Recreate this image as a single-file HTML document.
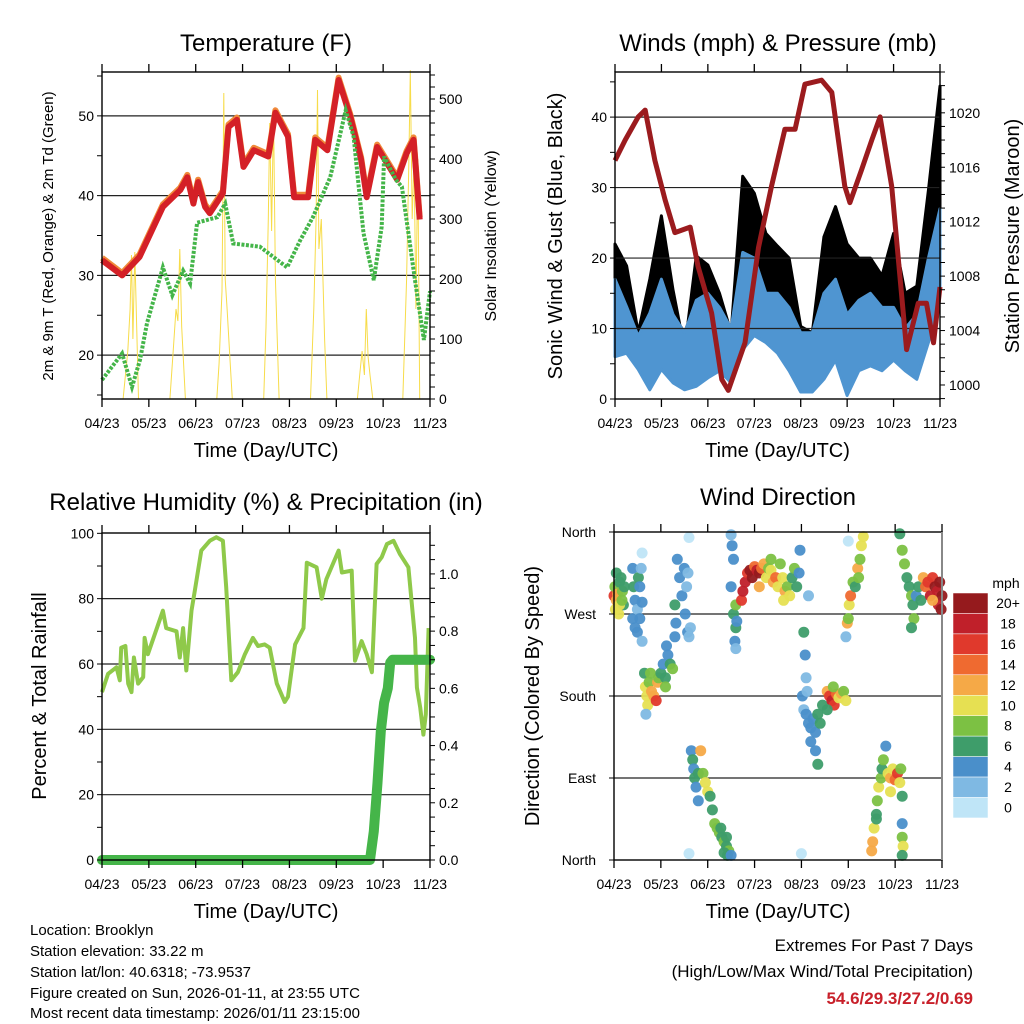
<!DOCTYPE html>
<html><head><meta charset="utf-8"><style>
html,body{margin:0;padding:0;background:#fff}
svg{display:block;font-family:"Liberation Sans",sans-serif}
</style></head><body>
<svg id="chart" width="1024" height="1024" viewBox="0 0 1024 1024" xmlns="http://www.w3.org/2000/svg">
<rect width="1024" height="1024" fill="#fff"/>
<text x="266" y="51" font-size="24" text-anchor="middle">Temperature (F)</text>
<text x="778" y="51" font-size="24" text-anchor="middle">Winds (mph) &amp; Pressure (mb)</text>
<text x="266" y="510" font-size="24" text-anchor="middle">Relative Humidity (%) &amp; Precipitation (in)</text>
<text x="778" y="505" font-size="24" text-anchor="middle">Wind Direction</text>
<g id="layer"></g>
<g font-size="15">
<text x="30" y="935">Location: Brooklyn</text>
<text x="30" y="956">Station elevation: 33.22 m</text>
<text x="30" y="977">Station lat/lon: 40.6318; -73.9537</text>
<text x="30" y="998">Figure created on Sun, 2026-01-11, at 23:55 UTC</text>
<text x="30" y="1018">Most recent data timestamp: 2026/01/11 23:15:00</text>
</g>
<g text-anchor="end" font-size="17">
<text x="973" y="951">Extremes For Past 7 Days</text>
<text x="973" y="977">(High/Low/Max Wind/Total Precipitation)</text>
<text x="973" y="1004" fill="#c8202a" font-weight="bold">54.6/29.3/27.2/0.69</text>
</g>
</svg>
<script>
// ---------- data ----------
const dayLabels=["04/23","05/23","06/23","07/23","08/23","09/23","10/23","11/23"];
const tempT=[0,0.43,0.8,1.3,1.67,1.82,1.95,2.05,2.2,2.3,2.58,2.7,2.88,3.02,3.24,3.55,3.7,3.97,4.1,4.4,4.55,4.81,5.05,5.3,5.53,5.65,5.87,6.3,6.5,6.65,6.78];
const tempV=[31.9,30,32.3,38.6,40.7,42.3,39,41.7,38.6,37.8,40.3,48.6,49.5,43.6,45.7,44.9,50.4,47.4,39.8,39.8,47,45.7,54.5,49.9,44.5,39.8,46.1,42,45.3,47,37];
const dewT=[0,0.43,0.64,0.81,0.96,1.3,1.5,1.73,1.88,2.03,2.46,2.63,2.8,3.37,3.95,4.23,4.5,4.87,5.2,5.37,5.58,5.8,5.97,6.02,6.27,6.4,6.68,6.87,7];
const dewV=[16.9,20.2,16,19.4,24,31,27.5,30.6,29,36.6,37.3,39,34,33.6,31,34.4,37.3,42.3,50.7,47.4,35.3,29.4,36.1,44.9,42,41.1,29.4,21.9,28];
const solarT=[0.45,0.55,0.6,0.63,0.66,0.7,0.74,0.78,1.45,1.52,1.58,1.62,1.66,1.7,1.78,2.45,2.5,2.56,2.6,2.63,2.67,2.72,2.78,3.45,3.5,3.55,3.58,3.62,3.66,3.7,3.78,4.45,4.52,4.57,4.6,4.63,4.68,4.75,4.8,5.45,5.5,5.55,5.6,5.64,5.68,5.72,5.78,6.42,6.5,6.55,6.58,6.62,6.66,6.7,6.74,6.78];
const solarV=[0,80,150,240,100,245,120,0,0,80,150,130,250,120,0,0,60,180,510,200,150,80,0,0,120,300,460,280,480,200,0,0,150,300,515,250,300,100,0,0,40,80,40,150,70,40,0,0,200,400,548,300,400,150,400,0];
const windT=[0,0.25,0.5,0.75,1,1.25,1.5,1.75,2,2.25,2.5,2.75,3,3.25,3.5,3.75,4,4.25,4.5,4.75,5,5.25,5.5,5.75,6,6.25,6.5,6.75,7];
const windHi=[17,13.1,8.9,12.2,17,12,9.4,14,15,13,10,20.8,20,15,15,13,9.4,9.4,15,17,12,14,15,13,13,10,12,20,27];
const windLo=[6,6.5,4.2,1.3,4.2,2.3,1.3,1.8,3,4,2.3,7,9,8,6.5,4,1,1,2.8,5.5,0.5,4,4.7,4,5.5,4,2.8,8,15];
const gustHi=[22,18.9,9.4,17,26,15.5,7,20.3,19,15,9.4,31.6,29.2,23.5,21.7,20,10.3,9.4,23,27.3,22,20,20,17.5,23.5,15,16,29.6,44.4];
const presT=[0,0.22,0.5,0.65,0.86,1.08,1.29,1.62,1.79,2.08,2.3,2.44,2.8,3.09,3.37,3.66,3.88,4.09,4.45,4.67,4.95,5.06,5.31,5.53,5.71,5.96,6.28,6.53,6.71,6.86,7];
const presV=[1016.5,1018,1019.7,1020.2,1016.5,1013.6,1011.2,1011.6,1008.7,1005.3,1000.4,999.6,1003.1,1010.1,1014.6,1018.8,1018.8,1022.1,1022.4,1021.5,1014.6,1013.4,1015.8,1018,1019.7,1014.6,1002.6,1006,1006,1003.1,1007.2];
const rhT=[0,0.13,0.31,0.38,0.41,0.5,0.56,0.63,0.68,0.77,0.88,0.91,0.98,1.3,1.37,1.59,1.66,1.73,1.8,1.91,1.98,2.12,2.3,2.44,2.58,2.65,2.76,2.9,3.05,3.22,3.33,3.47,3.58,3.73,3.9,3.97,4.12,4.3,4.37,4.58,4.69,4.79,5.05,5.12,5.33,5.4,5.54,5.65,5.76,5.86,5.97,6.08,6.22,6.36,6.54,6.68,6.72,6.79,6.86,6.91,6.97];
const rhV=[51.4,57,59,55,65,65.5,54,51.4,62,54,56,68,63,76.3,71,70,62,71,58,76.3,82.4,94.7,97.7,98.8,97.7,83.5,55,57.5,63,68,65.5,66,65,54,48.4,50,66,71,91,89.6,80,86,94.7,88,88.6,61,67,63,57.5,90.6,92.7,96.7,97.7,93.6,89.6,68,52.8,46.7,38.4,44.6,71];
const rainT=[0,5.72,5.8,5.88,5.95,6.02,6.1,6.15,6.2,7];
const rainV=[0,0,0.1,0.27,0.45,0.55,0.6,0.69,0.7,0.7];
const dirT=[0,0.02,0.03,0.05,0.08,0.1,0.12,0.15,0.18,0.2,0.22,0.05,0.12,0.17,
0.4,0.42,0.45,0.4,0.45,0.5,0.52,0.55,0.5,0.55,0.58,0.6,0.6,
0.65,0.67,0.7,0.72,0.75,0.8,0.85,0.9,0.93,0.95,0.68,0.78,
1.0,1.05,1.1,1.15,1.2,1.25,1.12,1.1,
1.3,1.32,1.35,1.4,1.45,1.5,1.55,1.52,1.57,1.6,1.3,1.63,1.58,
1.65,1.68,1.7,1.72,1.75,1.8,1.85,1.9,1.95,1.8,2.0,
2.05,2.1,2.15,2.2,2.25,2.3,2.35,2.4,2.45,2.42,2.35,2.5,2.28,2.4,
2.5,2.52,2.55,2.5,2.55,2.6,2.6,2.62,2.58,2.6,
2.72,2.75,2.8,2.85,2.9,2.95,3.0,3.05,3.1,3.15,3.2,3.25,3.3,3.35,3.4,3.45,3.5,3.55,3.6,3.65,3.7,3.75,3.8,3.85,3.9,3.95,3.97,3.62,3.35,3.1,
4.05,4.08,4.1,4.02,4.05,4.1,4.15,4.2,4.25,4.3,4.35,4.4,4.2,4.3,4.35,4.45,4.12,
4.55,4.6,4.65,4.7,4.75,4.8,4.85,4.9,4.95,4.68,4.55,
4.95,4.98,5.02,5.05,5.1,5.15,5.2,5.25,5.28,5.32,5.22,5.0,
5.5,5.52,5.55,5.6,5.62,5.65,5.7,5.72,5.75,5.8,5.6,
5.85,5.9,5.95,6.0,6.05,6.1,6.12,5.9,6.15,
6.15,6.15,6.17,6.15,
6.1,6.15,6.2,6.25,6.3,6.35,6.38,6.4,6.45,6.5,6.35,6.55,
6.6,6.65,6.7,6.75,6.8,6.85,6.9,6.95,7.0,6.92,6.8,6.98,
0.6,1.6,1.6,4.0,5.0,4.15];
const dirDeg=[290,300,275,285,292,270,305,310,295,280,300,315,280,285,
320,300,285,265,255,275,310,300,250,265,320,283,240,
205,190,180,170,195,185,180,175,195,200,160,205,
205,215,200,225,215,210,235,190,
280,260,330,310,290,320,300,270,250,245,245,255,315,
120,110,100,90,80,95,120,95,85,65,75,
70,55,40,35,30,25,20,15,10,5,8,5,35,25,
357,345,330,300,270,255,280,262,240,232,
285,295,305,315,318,310,322,318,315,320,325,310,320,318,305,310,300,325,310,295,300,290,310,320,300,315,340,285,330,300,
250,225,200,180,165,160,150,145,155,140,160,150,130,120,105,170,185,
185,180,175,170,182,178,183,185,175,190,165,
245,260,280,290,305,300,320,330,345,355,310,265,
10,20,35,50,65,80,90,100,110,125,45,
95,90,100,88,95,85,100,75,70,
40,25,15,5,
358,340,325,310,300,290,280,265,290,300,255,285,
310,300,305,290,310,300,295,305,290,280,285,275,
337,354,7,7,350,290];
const dirSpd=[16,8,10,12,12,10,6,6,8,6,6,6,10,8,
4,6,4,4,4,2,6,4,4,4,2,4,2,
6,10,10,10,8,12,12,16,12,8,2,8,
6,4,6,4,6,8,4,8,
6,4,4,4,4,4,2,4,4,2,4,2,2,
4,6,4,6,4,6,12,8,10,4,10,
6,6,8,8,8,6,8,6,8,6,6,4,6,6,
2,4,4,4,6,6,8,4,4,2,
16,18,18,16,20,20,14,18,20,14,12,10,8,10,12,14,10,8,10,12,8,10,6,8,6,4,4,10,8,12,
6,4,2,4,2,4,4,4,4,4,6,6,4,4,6,6,2,
12,16,18,16,14,10,12,8,10,8,6,
2,12,10,14,8,6,12,8,10,10,8,8,
12,12,10,6,8,10,8,6,8,4,6,
10,12,10,14,16,10,8,10,6,
4,8,10,6,
6,8,8,6,6,8,6,8,4,6,6,6,
12,14,16,18,16,20,18,20,20,18,12,20,
0,0,0,0,0,2];
const speedLabels=["20+","18","16","14","12","10","8","6","4","2","0"];
const speedColors=["#951a1d","#c0202a","#e0392c","#ef6a30","#f5a947","#e6e052","#7cc143","#3e9d6a","#4a8fca","#7fb9e3","#bfe5f7"];

// ---------- helpers ----------
const NS="http://www.w3.org/2000/svg";
const layer=document.getElementById('layer');
function el(tag,attrs,parent){const e=document.createElementNS(NS,tag);for(const k in attrs)e.setAttribute(k,attrs[k]);(parent||layer).appendChild(e);return e;}
function lin(d0,d1,r0,r1){return v=>r0+(v-d0)/(d1-d0)*(r1-r0);}
function pathFrom(xs,ys,fx,fy){return xs.map((t,i)=>(i?'L':'M')+fx(t).toFixed(1)+','+fy(ys[i]).toFixed(1)).join('');}

function frame(P,name){
  const g=el('g',{});
  
  
  return g;
}
function xAxis(P,g,name){
  const fx=lin(0,7,P.x0,P.x1);
  dayLabels.forEach((lab,i)=>{
    const x=fx(i);
    el('line',{x1:x,x2:x,y1:P.y1,y2:P.y1+8,stroke:'#000','stroke-width':1.3},g);
    el('line',{x1:x,x2:x,y1:P.y0,y2:P.y0-8,stroke:'#000','stroke-width':1.3},g);
    const t=el('text',{x:x,y:P.y1+29,'font-size':14,'text-anchor':'middle'},g);
    t.textContent=lab;
    
    
  });
  const tt=el('text',{x:(P.x0+P.x1)/2,y:P.y1+58,'font-size':20,'text-anchor':'middle'},g);
  tt.textContent='Time (Day/UTC)';
  
  
}
function yTicks(g,P,fy,from,to,step,side,len){
  for(let v=from;v<=to+1e-9;v+=step){const y=fy(v);
    if(side==='L')el('line',{x1:P.x0-len,x2:P.x0,y1:y,y2:y,stroke:'#000','stroke-width':1},g);
    else el('line',{x1:P.x1,x2:P.x1+len,y1:y,y2:y,stroke:'#000','stroke-width':1},g);}
}
function yLabels(g,P,fy,vals,labs,side,name){
  vals.forEach((v,i)=>{const y=fy(v);
    const t=el('text',{x:side==='L'?P.x0-8:P.x1+9,y:y+5,'font-size':14,'text-anchor':side==='L'?'end':'start'},g);
    t.textContent=labs?labs[i]:String(v);
    
    });
}
function vTitle(g,x,y,txt,size,name){
  const t=el('text',{x:x,y:y,'font-size':size,'text-anchor':'middle',transform:`rotate(-90 ${x} ${y})`},g);
  t.textContent=txt;
  
  
}
function box(g,P){el('rect',{x:P.x0,y:P.y0,width:P.x1-P.x0,height:P.y1-P.y0,fill:'none',stroke:'#000','stroke-width':1.4},g);}
function grid(g,P,fy,vals){vals.forEach(v=>el('line',{x1:P.x0,x2:P.x1,y1:fy(v),y2:fy(v),stroke:'#222','stroke-width':1.2},g));}

// ---------- panel 1: temperature ----------
{const P={x0:102,x1:430,y0:72,y1:399};
 const fx=lin(0,7,P.x0,P.x1), fy=lin(14.5,55.5,P.y1,P.y0), fs=lin(0,545,P.y1,P.y0);
 const g=frame(P,'temperature');
 grid(g,P,fy,[20,30,40,50]);
 const s=el('path',{d:pathFrom(solarT,solarV,fx,fs),fill:'none',stroke:'#f7dc4a','stroke-width':1},g);
 
 
 const o=el('path',{d:pathFrom(tempT,tempV.map(v=>v+0.3),fx,fy),fill:'none',stroke:'#f08a3a','stroke-width':6,'stroke-linejoin':'round'},g);
 
 
 const r=el('path',{d:pathFrom(tempT,tempV,fx,fy),fill:'none',stroke:'#d42027','stroke-width':6,'stroke-linejoin':'round'},g);
 
 
 const d=el('path',{d:pathFrom(dewT,dewV,fx,fy),fill:'none',stroke:'#44b549','stroke-width':4,'stroke-dasharray':'3 1.5'},g);
 
 
 box(g,P);
 yTicks(g,P,fy,15,55,5,'L',5);
 yLabels(g,P,fy,[20,30,40,50],null,'L','left-y-tick-label');
 yTicks(g,P,fs,0,540,20,'R',5);
 yLabels(g,P,fs,[0,100,200,300,400,500],null,'R','right-y-tick-label');
 xAxis(P,g,'temperature');
 vTitle(g,53,236,'2m & 9m T (Red, Orange) & 2m Td (Green)',15,'temperature-y-axis-title');
 vTitle(g,496,236,'Solar Insolation (Yellow)',16,'solar-y-axis-title');
}
// ---------- panel 2: winds ----------
{const P={x0:615,x1:940,y0:72,y1:399};
 const fx=lin(0,7,P.x0,P.x1), fy=lin(0,46.4,P.y1,P.y0), fp=lin(998.97,1023,P.y1,P.y0);
 const g=frame(P,'winds');
 const gx=windT.map(fx);
 let gp='M'+gx.map((x,i)=>x.toFixed(1)+','+fy(gustHi[i]).toFixed(1)).join('L')+'L'+gx.slice().reverse().map((x,j)=>{const i=gx.length-1-j;return x.toFixed(1)+','+fy(windHi[i]).toFixed(1);}).join('L')+'Z';
 const gu=el('path',{d:gp,fill:'#000',stroke:'#000','stroke-width':3,'stroke-linejoin':'round'},g);
 
 
 let bp='M'+gx.map((x,i)=>x.toFixed(1)+','+fy(windHi[i]).toFixed(1)).join('L')+'L'+gx.slice().reverse().map((x,j)=>{const i=gx.length-1-j;return x.toFixed(1)+','+fy(windLo[i]).toFixed(1);}).join('L')+'Z';
 const bl=el('path',{d:bp,fill:'#4f95d1',stroke:'#4f95d1','stroke-width':3,'stroke-linejoin':'round'},g);
 
 
 grid(g,P,fy,[10,20,30,40]);
 const pr=el('path',{d:pathFrom(presT,presV,fx,fp),fill:'none',stroke:'#9b1b1e','stroke-width':5,'stroke-linejoin':'round'},g);
 
 
 box(g,P);
 yTicks(g,P,fy,0,45,5,'L',5);
 yLabels(g,P,fy,[0,10,20,30,40],null,'L','left-y-tick-label');
 yTicks(g,P,fp,999,1023,1,'R',5);
 yLabels(g,P,fp,[1000,1004,1008,1012,1016,1020],null,'R','right-y-tick-label');
 xAxis(P,g,'winds');
 vTitle(g,562,236,'Sonic Wind & Gust (Blue, Black)',20,'wind-y-axis-title');
 vTitle(g,1019,236,'Station Pressure (Maroon)',20,'pressure-y-axis-title');
}
// ---------- panel 3: humidity ----------
{const P={x0:102,x1:430,y0:533,y1:860};
 const fx=lin(0,7,P.x0,P.x1), fy=lin(0,100.1,P.y1,P.y0), fr=lin(0,1.143,P.y1,P.y0);
 const g=frame(P,'humidity');
 grid(g,P,fy,[20,40,60,80]);
 const rh=el('path',{d:pathFrom(rhT,rhV,fx,fy),fill:'none',stroke:'#8fc94a','stroke-width':4,'stroke-linejoin':'round'},g);
 
 
 const rn=el('path',{d:pathFrom(rainT,rainV,fx,fr),fill:'none',stroke:'#45b549','stroke-width':10,'stroke-linejoin':'round','stroke-linecap':'round'},g);
 
 
 box(g,P);
 yTicks(g,P,fy,0,100,10,'L',5);
 yLabels(g,P,fy,[0,20,40,60,80,100],null,'L','left-y-tick-label');
 yTicks(g,P,fr,0,1.1,0.05,'R',5);
 yLabels(g,P,fr,[0,0.2,0.4,0.6,0.8,1.0],["0.0","0.2","0.4","0.6","0.8","1.0"],'R','right-y-tick-label');
 xAxis(P,g,'humidity');
 vTitle(g,46,696,'Percent & Total Rainfall',20,'humidity-y-axis-title');
}
// ---------- panel 4: wind direction ----------
{const P={x0:614,x1:942,y0:532,y1:860};
 const fx=lin(0,7,P.x0,P.x1), fy=lin(0,360,P.y1,P.y0);
 const g=frame(P,'wind-direction');
 grid(g,P,fy,[90,180,270]);
 const sg=el('g',{},g);
 
 
 dirT.forEach((t,i)=>{
   const idx=Math.max(0,Math.min(10,10-Math.round(dirSpd[i]/2)));
   const c=el('circle',{cx:fx(t).toFixed(1),cy:fy(dirDeg[i]).toFixed(1),r:5.5,fill:speedColors[idx],'fill-opacity':0.95},sg);
   
   
 });
 el('rect',{x:P.x0,y:P.y0,width:P.x1-P.x0,height:P.y1-P.y0,fill:'none',stroke:'#000','stroke-width':1.4},g);
 el('line',{x1:P.x1,x2:P.x1,y1:P.y0,y2:P.y1,stroke:'#888','stroke-width':2},g);
 ['North','East','South','West','North'].forEach((lab,i)=>{const y=fy(i*90);
   el('line',{x1:P.x0-5,x2:P.x0,y1:y,y2:y,stroke:'#000'},g);
   const t=el('text',{x:P.x0-18,y:y+5,'font-size':14,'text-anchor':'end'},g);
   t.textContent=lab;
   
   });
 xAxis(P,g,'wind-direction');
 vTitle(g,539,696,'Direction (Colored By Speed)',20,'direction-y-axis-title');
 const lg=el('g',{},g);
 
 
 const lt=el('text',{x:1006,y:588,'font-size':14,'text-anchor':'middle'},lg);
 lt.textContent='mph';
 speedLabels.forEach((lab,i)=>{const y=593+i*20.45;
   el('rect',{x:953,y:y,width:35,height:20.45,fill:speedColors[i],stroke:'#fff','stroke-width':0.5},lg);
   const t=el('text',{x:1008,y:y+15,'font-size':14,'text-anchor':'middle'},lg);
   t.textContent=lab;
   
   });
}
</script>
</body></html>
